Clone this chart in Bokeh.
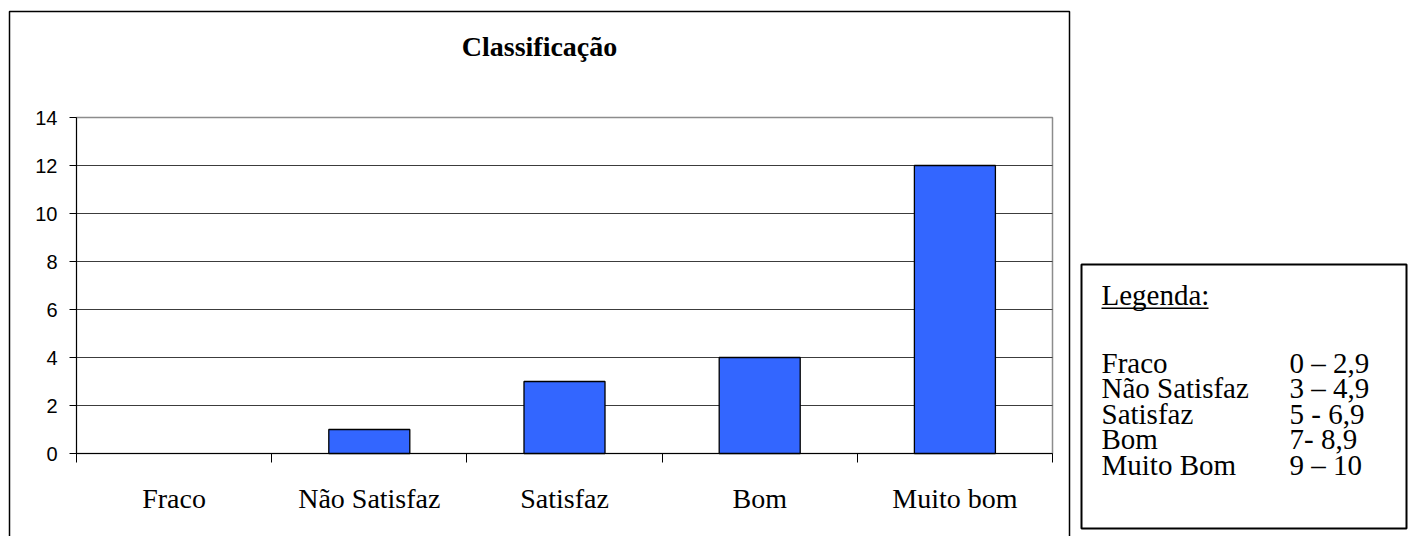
from bokeh.plotting import figure
from bokeh.models import FixedTicker, Label, BoxAnnotation, Range1d
from bokeh.embed import file_html
from bokeh.resources import INLINE

# ---- data ----
categories = ["Fraco", "Não Satisfaz", "Satisfaz", "Bom", "Muito bom"]
counts = [0, 1, 3, 4, 12]
y_ticks = [0, 2, 4, 6, 8, 10, 12, 14]
title_text = "Classificação"
legend_title = "Legenda:"
legend_names = ["Fraco", "Não Satisfaz", "Satisfaz", "Bom", "Muito Bom"]
legend_ranges = ["0 – 2,9", "3 – 4,9", "5 - 6,9", "7- 8,9", "9 – 10"]

# ---- layout constants (pixels) ----
W, H = 1408, 536
PA_LEFT, PA_RIGHT, PA_TOP, PA_BOTTOM = 76, 1052, 117, 453
SERIF = "Liberation Serif"
SANS = "Liberation Sans"

n = len(categories)
ymax = y_ticks[-1]
ux = (PA_RIGHT - PA_LEFT) / n
uy = (PA_BOTTOM - PA_TOP) / ymax

p = figure(width=W, height=H, output_backend="svg", toolbar_location=None,
           x_range=Range1d(-PA_LEFT / ux, n + (W - PA_RIGHT) / ux),
           y_range=Range1d(-(H - PA_BOTTOM) / uy, ymax + PA_TOP / uy),
           min_border=0)
p.outline_line_color = None
p.background_fill_color = "white"
p.border_fill_color = "white"
p.grid.visible = False


def sy(page_y):
    return H - page_y


def screen_box(left, right, top, bottom, **kw):
    return BoxAnnotation(left=left, right=right, top=sy(top), bottom=sy(bottom),
                         left_units="screen", right_units="screen",
                         top_units="screen", bottom_units="screen", **kw)


def text_label(x, y, text, size="29px", style="normal", align="left"):
    return Label(x=x, y=sy(y), x_units="screen", y_units="screen", text=text,
                 text_font=SERIF, text_font_size=size, text_font_style=style,
                 text_align=align, text_baseline="middle", text_color="black")


# plot-area border (grey)
p.add_layout(BoxAnnotation(left=0, right=n, bottom=0, top=ymax, fill_color=None,
                           line_color="#8c8c8c", line_alpha=1, line_width=1.5,
                           level="underlay"))

# horizontal grid lines
grid_y = y_ticks[1:-1]
p.segment(x0=[0] * len(grid_y), x1=[n] * len(grid_y), y0=grid_y, y1=grid_y,
          line_color="#3c3c3c", line_width=1)

# bars (categories with zero count draw nothing)
xs = [i + 0.5 for i in range(n)]
bar_x = [x for x, c in zip(xs, counts) if c > 0]
bar_top = [c for c in counts if c > 0]
p.vbar(x=bar_x, top=bar_top, width=0.415, bottom=0, fill_color="#3366FF",
       line_color="black", line_width=1.3)

# y axis
ya = p.yaxis[0]
ya.fixed_location = 0
ya.bounds = (0, ymax)
ya.ticker = FixedTicker(ticks=y_ticks, minor_ticks=[])
ya.major_tick_out = 7
ya.major_tick_in = 0
ya.minor_tick_out = 0
ya.minor_tick_in = 0
ya.axis_line_color = "black"
ya.major_tick_line_color = "black"
ya.major_label_text_font = SANS
ya.major_label_text_font_size = "20px"
ya.major_label_text_color = "black"
ya.major_label_standoff = 12

# x axis: labels at centres, ticks at category boundaries
xa = p.xaxis[0]
xa.fixed_location = 0
xa.bounds = (0, n)
xa.ticker = FixedTicker(ticks=xs, minor_ticks=list(range(n + 1)))
xa.major_label_overrides = {x: c for x, c in zip(xs, categories)}
xa.major_tick_out = 0
xa.major_tick_in = 0
xa.minor_tick_out = 9
xa.minor_tick_in = 0
xa.minor_tick_line_color = "black"
xa.axis_line_color = "black"
xa.major_label_text_font = SERIF
xa.major_label_text_font_size = "28px"
xa.major_label_text_color = "black"
xa.major_label_standoff = 20

# outer chart box
p.add_layout(screen_box(9, 1069, 11, 560, fill_color=None, line_color="black",
                        line_alpha=1, line_width=1.5))

# title
p.add_layout(text_label(539, 46, title_text, size="28px", style="bold", align="center"))

# legend box
p.add_layout(screen_box(1081, 1406, 264, 528, fill_color=None, line_color="black",
                        line_alpha=1, line_width=2))
p.add_layout(text_label(1101, 294, legend_title))
p.add_layout(screen_box(1101, 1208, 307, 308.5, fill_color="black", fill_alpha=1,
                        line_color=None))
for i, (nm, rg) in enumerate(zip(legend_names, legend_ranges)):
    yc = 362 + i * 25.5
    p.add_layout(text_label(1101, yc, nm))
    p.add_layout(text_label(1289, yc, rg))

open("out.html", "w").write(file_html(p, INLINE))
